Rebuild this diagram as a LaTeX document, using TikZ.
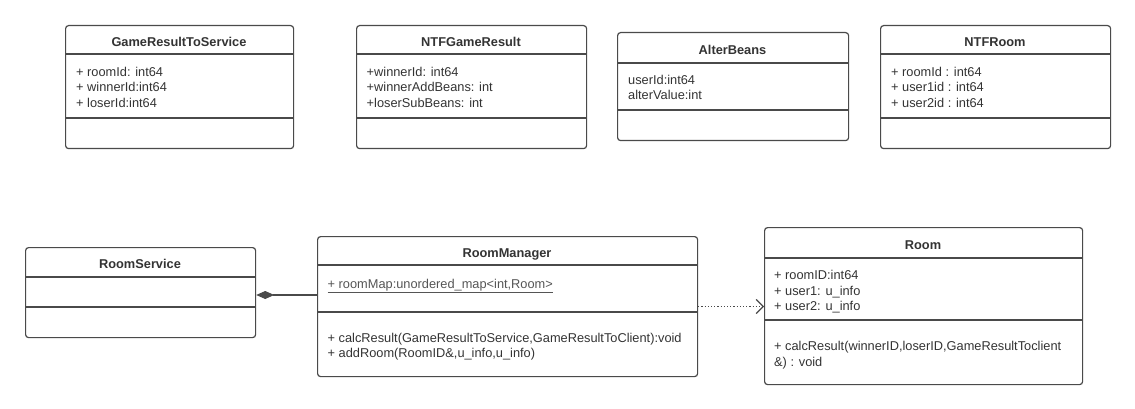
\documentclass[tikz,border=0pt]{standalone}
\usepackage{fontspec}
\setmainfont{Liberation Sans}
\usetikzlibrary{arrows.meta}
\definecolor{ln}{HTML}{4A4A4A}
\definecolor{tx}{HTML}{333333}
\definecolor{ul}{HTML}{555555}
\tikzset{
  classbox/.style={draw=ln, line width=1.2pt, rounded corners=3pt, inner sep=0pt, anchor=north west},
  divider/.style={draw=ln, line width=1.2pt},
  ttl/.style={font=\fontsize{12.8}{15}\selectfont\bfseries, text=tx, anchor=base, inner sep=0pt},
  att/.style={font=\fontsize{12.8}{15.5}\selectfont, text=tx, anchor=base west, align=left, inner sep=0pt},
}
\begin{document}
\begin{tikzpicture}[x=1pt,y=-1pt]
\useasboundingbox (0,0) rectangle (1135,409);
% (attribute nodes are placed by the baseline of their LAST line)

% GameResultToService
\node[classbox, minimum width=228pt, minimum height=123pt] (grs) at (65,25) {};
\draw[divider] (grs.west |- 0,54) -- (grs.east |- 0,54);
\draw[divider] (grs.west |- 0,118) -- (grs.east |- 0,118);
\node[ttl] (grst) at (179,46.5) {GameResultToService};
\node[att] (grsa) at (76,107.5) {+ roomId: int64\\+ winnerId:int64\\+ loserId:int64};

% NTFGameResult
\node[classbox, minimum width=230pt, minimum height=123pt] (ngr) at (356,25) {};
\draw[divider] (ngr.west |- 0,54) -- (ngr.east |- 0,54);
\draw[divider] (ngr.west |- 0,118) -- (ngr.east |- 0,118);
\node[ttl] (ngrt) at (471,46.5) {NTFGameResult};
\node[att] (ngra) at (366.5,107.5) {+winnerId: int64\\+winnerAddBeans: int\\+loserSubBeans: int};

% AlterBeans
\node[classbox, minimum width=231pt, minimum height=108pt] (ab) at (617,32) {};
\draw[divider] (ab.west |- 0,63) -- (ab.east |- 0,63);
\draw[divider] (ab.west |- 0,110) -- (ab.east |- 0,110);
\node[ttl] (abt) at (732.5,54.5) {AlterBeans};
\node[att] (aba) at (628,100) {userId:int64\\alterValue:int};

% NTFRoom
\node[classbox, minimum width=230pt, minimum height=123pt] (nr) at (880,25) {};
\draw[divider] (nr.west |- 0,54) -- (nr.east |- 0,54);
\draw[divider] (nr.west |- 0,118) -- (nr.east |- 0,118);
\node[ttl] (nrt) at (995,46.5) {NTFRoom};
\node[att] (nra) at (891,107.5) {+ roomId : int64\\+ user1id : int64\\+ user2id : int64};

% RoomService
\node[classbox, minimum width=230pt, minimum height=90pt] (rs) at (25,247) {};
\draw[divider] (rs.west |- 0,277) -- (rs.east |- 0,277);
\draw[divider] (rs.west |- 0,307) -- (rs.east |- 0,307);
\node[ttl] (rst) at (140,268.5) {RoomService};

% RoomManager
\node[classbox, minimum width=380pt, minimum height=140pt] (rm) at (317,236) {};
\draw[divider] (rm.west |- 0,265) -- (rm.east |- 0,265);
\draw[divider] (rm.west |- 0,312) -- (rm.east |- 0,312);
\node[ttl] (rmt) at (507,257.5) {RoomManager};
\node[att, text=ul] (rma) at (327.5,288) {\underline{+ roomMap:unordered\_map<int,Room>}};
\node[att] (rmm) at (327.5,357.5) {+ calcResult(GameResultToService,GameResultToClient):void\\+ addRoom(RoomID\&,u\_info,u\_info)};

% Room
\node[classbox, minimum width=318pt, minimum height=157pt] (room) at (764,227) {};
\draw[divider] (room.west |- 0,258) -- (room.east |- 0,258);
\draw[divider] (room.west |- 0,320) -- (room.east |- 0,320);
\node[ttl] (roomt) at (923,249.5) {Room};
\node[att] (rooma) at (774,310.5) {+ roomID:int64\\+ user1: u\_info\\+ user2: u\_info};
\node[att] (roomm) at (774,366) {+ calcResult(winnerID,loserID,GameResultToclient\\\&) : void};

% connectors
\draw[ln, line width=1.2pt, -{Diamond[length=18pt,width=8pt]}] (rm.west |- 0,295) -- (rs.east |- 0,295);
\draw[ln, line width=1.2pt, dotted, -{Straight Barb[length=7pt,width=14pt,line width=1.2pt]}] (rm.east |- 0,306.5) -- (room.west |- 0,306.5);
\end{tikzpicture}
\end{document}
